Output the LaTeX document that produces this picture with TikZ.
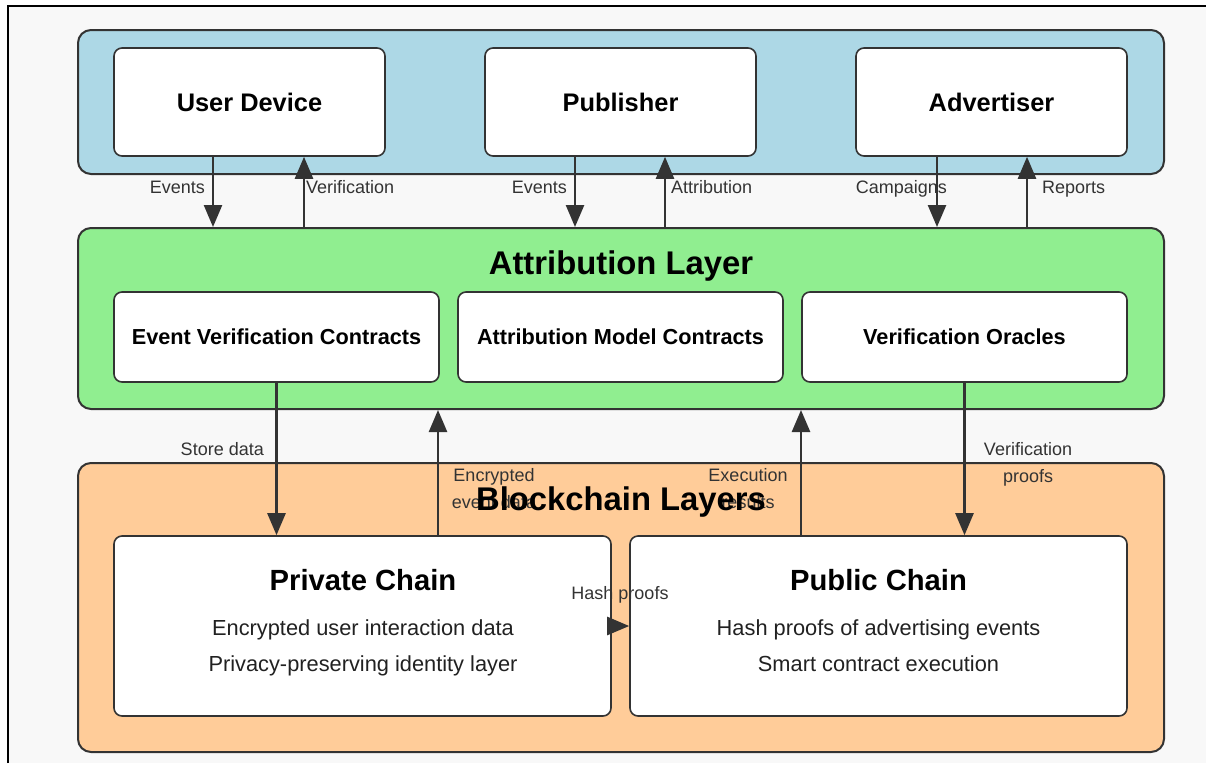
\documentclass[tikz,border=0pt]{standalone}
\usepackage{fontspec}
\setmainfont{Liberation Sans}
\usetikzlibrary{arrows.meta}
\definecolor{topblue}{HTML}{ADD8E6}
\definecolor{attrgreen}{HTML}{90EE90}
\definecolor{chainpeach}{HTML}{FFCC99}
\definecolor{edgegray}{HTML}{333333}
\definecolor{pagegray}{HTML}{F8F8F8}

\begin{document}
\begin{tikzpicture}[
  x=1pt, y=-1pt,
  layer/.style={draw=edgegray, line width=2pt, rounded corners=13pt, minimum width=1086pt, inner sep=0pt},
  box/.style={draw=edgegray, line width=1.6pt, fill=white, rounded corners=8pt, inner sep=0pt},
  actor/.style={box, minimum width=271pt, minimum height=108pt, font=\bfseries\fontsize{25.4}{28}\selectfont},
  contract/.style={box, minimum width=325pt, minimum height=90pt, font=\bfseries\fontsize{21.7}{24}\selectfont},
  chain/.style={box, minimum width=497pt, minimum height=180pt},
  title/.style={anchor=base, inner sep=0pt, font=\bfseries\fontsize{32.8}{36}\selectfont},
  chaintitle/.style={anchor=base, inner sep=0pt, font=\bfseries\fontsize{29.2}{32}\selectfont},
  body/.style={anchor=base, inner sep=0pt, text=black!87, font=\fontsize{21.8}{24}\selectfont},
  lbl/.style={inner sep=0pt, text=edgegray, font=\fontsize{18}{26.5}\selectfont},
  flow/.style={draw=edgegray, line width=2.5pt, -{Triangle[length=22pt,width=18pt]}}
]
\useasboundingbox (0,0) rectangle (1206,763);
\fill[pagegray] (8,6) rectangle (1206,763);
\draw[line width=2pt] (8,763) -- (8,6) -- (1206,6);

% Actors
\node[layer, fill=topblue, minimum height=144pt] (top) at (621,102) {};
\node[actor] (ud)  at (249.5,102) {User Device};
\node[actor] (pbl) at (620.5,102) {Publisher};
\node[actor] (adv) at (991.5,102) {Advertiser};

% Attribution layer
\node[layer, fill=attrgreen, minimum height=181pt] (attr) at (621,318.5) {};
\node[title] (attrtitle) at (621,274) {Attribution Layer};
\node[contract] (evc) at (276.5,337) {Event Verification Contracts};
\node[contract] (amc) at (620.5,337) {Attribution Model Contracts};
\node[contract] (vo)  at (964.5,337) {Verification Oracles};

% Blockchain layers
\node[layer, fill=chainpeach, minimum height=289pt] (bc) at (621,607.5) {};
\node[chain] (priv) at (362.5,626) {};
\node[chain] (pub)  at (878.5,626) {};
\node[chaintitle] (privtitle) at (363,590) {Private Chain};
\node[body] (priv1) at (363,635) {Encrypted user interaction data};
\node[body] (priv2) at (363,671) {Privacy-preserving identity layer};
\node[chaintitle] (pubtitle) at (878.5,590) {Public Chain};
\node[body] (pub1) at (878.5,635) {Hash proofs of advertising events};
\node[body] (pub2) at (878.5,671) {Smart contract execution};

% Actor flows
\draw[flow] ([xshift=-36.5pt]ud.south) -- ([xshift=-36.5pt]ud.south |- attr.north);
\draw[flow] ([xshift=54.5pt]ud.south |- attr.north) -- ([xshift=54.5pt]ud.south);
\draw[flow] ([xshift=-45.5pt]pbl.south) -- ([xshift=-45.5pt]pbl.south |- attr.north);
\draw[flow] ([xshift=44.5pt]pbl.south |- attr.north) -- ([xshift=44.5pt]pbl.south);
\draw[flow] ([xshift=-54.5pt]adv.south) -- ([xshift=-54.5pt]adv.south |- attr.north);
\draw[flow] ([xshift=35.5pt]adv.south |- attr.north) -- ([xshift=35.5pt]adv.south);
\node[lbl, anchor=base east] (l1) at (205,193) {Events};
\node[lbl, anchor=base west] (l2) at (306,193) {Verification};
\node[lbl, anchor=base east] (l3) at (567,193) {Events};
\node[lbl, anchor=base west] (l4) at (671,193) {Attribution};
\node[lbl, anchor=base east] (l5) at (947,193) {Campaigns};
\node[lbl, anchor=base west] (l6) at (1042,193) {Reports};

% Chain flows
\draw[flow] (evc.south) -- (evc.south |- priv.north);
\draw[flow] ([xshift=75.5pt]priv.north) -- ([xshift=75.5pt]priv.north |- attr.south);
\draw[flow] ([xshift=-77.5pt]pub.north) -- ([xshift=-77.5pt]pub.north |- attr.south);
\draw[flow] (vo.south) -- (vo.south |- pub.north);
\draw[flow] (priv.east) -- (pub.west);
\node[lbl, anchor=base east] (l7) at (264,455) {Store data};
\node[lbl, anchor=base, align=center] (l8) at (494,508) {Encrypted\\event data};
\node[lbl, anchor=base, align=center] (l9) at (748,508) {Execution\\results};
\node[lbl, anchor=base, align=center] (l10) at (1028,482) {Verification\\proofs};
\node[lbl, anchor=base] (l11) at (620,599) {Hash proofs};
\node[title] (bctitle) at (621,510) {Blockchain Layers};
\end{tikzpicture}
\end{document}
